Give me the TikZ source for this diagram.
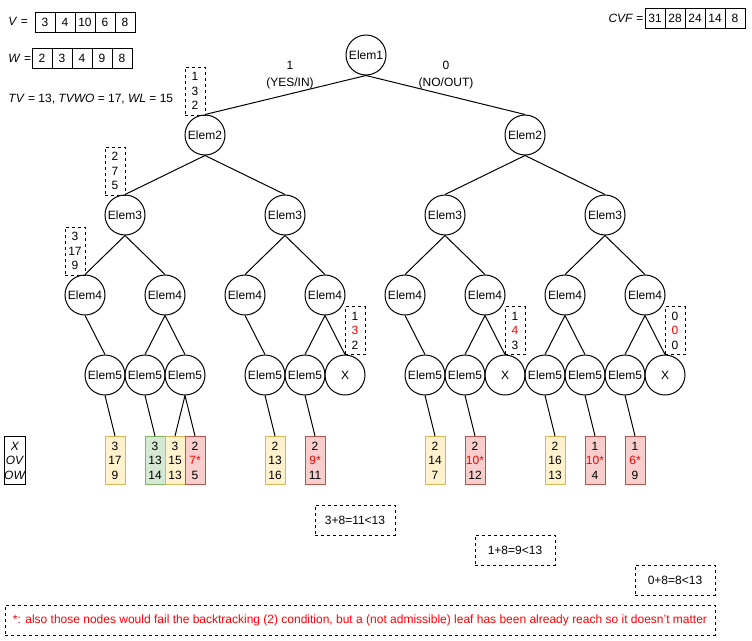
\documentclass[tikz,border=0pt]{standalone}
\usepackage{fontspec}
\setmainfont{Liberation Sans}
\usetikzlibrary{positioning}
\definecolor{yelfill}{HTML}{FFF2CC}
\definecolor{yeldraw}{HTML}{D6B656}
\definecolor{grnfill}{HTML}{D5E8D4}
\definecolor{grndraw}{HTML}{82B366}
\definecolor{redfill}{HTML}{F8CECC}
\definecolor{reddraw}{HTML}{B85450}
\definecolor{txtred}{HTML}{FF0000}
\newcommand{\redtxt}[1]{\textcolor{txtred}{#1}}
\tikzset{elem/.style = {draw, circle, minimum size = 40, inner sep = 0},
    cell/.style = {draw, minimum size = 20, inner sep = 0},
    leaf/.style = {draw, minimum width = 20, minimum height = 48, inner sep = 0, align = center},
    yel/.style = {leaf, draw = yeldraw, fill = yelfill},
    grn/.style = {leaf, draw = grndraw, fill = grnfill},
    rdl/.style = {leaf, draw = reddraw, fill = redfill},
    note/.style = {leaf, dashed},
    calc/.style = {draw, dashed, minimum width = 80, minimum height = 30, inner sep = 0},
    txt/.style = {inner sep = 0, anchor = west}}

\begin{document}
\begin{tikzpicture}[x=1pt, y=-1pt, line width=1pt, font=\fontsize{12}{14.5}\selectfont]
        \useasboundingbox (0,0) rectangle (752,640);
        % data rows
        \node[txt] (vlbl) at (8,21) {\textit{V} =};
        \foreach \v [count=\i] in {3,4,10,6,8}
            \node[cell] (v\i) at ({25+20*\i},22) {\v};
        \node[txt] (wlbl) at (8,58) {\textit{W} =};
        \foreach \v [count=\i] in {2,3,4,9,8}
            \node[cell] (w\i) at ({22+20*\i},58) {\v};
        \node[txt] (tv) at (8,99) {\textit{TV} = 13, \textit{TVWO} = 17, \textit{WL} = 15};
        \node[txt] (cvflbl) at (608,18) {\textit{CVF} =};
        \foreach \v [count=\i] in {31,28,24,14,8}
            \node[cell] (cvf\i) at ({635+20*\i},18) {\v};
        % tree
        \node[elem] (lvA1) at (366,55) {Elem1};
        \foreach \x [count=\i] in {205,525}
            \node[elem] (lvB\i) at (\x,135) {Elem2};
        \foreach \x [count=\i] in {125,285,445,605}
            \node[elem] (lvC\i) at (\x,215) {Elem3};
        \foreach \x [count=\i] in {85,165,245,325,405,485,565,645}
            \node[elem] (lvD\i) at (\x,295) {Elem4};
        \foreach \x/\t [count=\i] in {105/Elem5,145/Elem5,185/Elem5,265/Elem5,305/Elem5,345/X,
                425/Elem5,465/Elem5,505/X,545/Elem5,585/Elem5,625/Elem5,665/X}
            \node[elem] (lvE\i) at (\x,375) {\t};
        \foreach \p/\c in {lvA1/lvB1,lvA1/lvB2,lvB1/lvC1,lvB1/lvC2,lvB2/lvC3,lvB2/lvC4,
                lvC1/lvD1,lvC1/lvD2,lvC2/lvD3,lvC2/lvD4,lvC3/lvD5,lvC3/lvD6,lvC4/lvD7,lvC4/lvD8,
                lvD1/lvE1,lvD2/lvE2,lvD2/lvE3,lvD3/lvE4,lvD4/lvE5,lvD4/lvE6,lvD5/lvE7,
                lvD6/lvE8,lvD6/lvE9,lvD7/lvE10,lvD7/lvE11,lvD8/lvE12,lvD8/lvE13}
            \draw (\p.south) -- (\c.north);
        \node[align=center, font=\fontsize{12}{17.5}\selectfont] (yes) at (290,75) {1\\(YES/IN)};
        \node[align=center, font=\fontsize{12}{17.5}\selectfont] (no) at (446,75) {0\\(NO/OUT)};
        % leaves
        \foreach \x/\s/\t/\p [count=\i] in {115/yel/{3\\17\\9}/lvE1, 155/grn/{3\\13\\14}/lvE2,
                175/yel/{3\\15\\13}/lvE3, 195/rdl/{2\\\redtxt{7*}\\5}/lvE3,
                275/yel/{2\\13\\16}/lvE4, 315/rdl/{2\\\redtxt{9*}\\11}/lvE5,
                435/yel/{2\\14\\7}/lvE7, 475/rdl/{2\\\redtxt{10*}\\12}/lvE8,
                555/yel/{2\\16\\13}/lvE10, 595/rdl/{1\\\redtxt{10*}\\4}/lvE11,
                635/rdl/{1\\\redtxt{6*}\\9}/lvE12}
        {
            \node[\s] (leaf\i) at (\x,460.5) {\t};
            \draw (\p.south) -- (leaf\i.north);
        }
        \node[leaf, fill=white] (legend) at (15,460.5) {\textit{X}\\\textit{OV}\\\textit{OW}};
        % partial sums
        \node[note] (ps1) at (195,91) {1\\3\\2};
        \node[note] (ps2) at (115,171) {2\\7\\5};
        \node[note] (ps3) at (75,251) {3\\17\\9};
        \node[note] (ps4) at (355,330.5) {1\\\redtxt{3}\\2};
        \node[note] (ps5) at (515,330.5) {1\\\redtxt{4}\\3};
        \node[note] (ps6) at (675,330.5) {0\\\redtxt{0}\\0};
        % bounds
        \node[calc] (b1) at (355,520) {3+8=11<13};
        \node[calc] (b2) at (515,550) {1+8=9<13};
        \node[calc] (b3) at (675,580) {0+8=8<13};
        \node[draw, dashed, minimum width=710, minimum height=30, inner sep=0, text=txtred] (fn) at (360,620)
            {*: also those nodes would fail the backtracking (2) condition, but a (not admissible) leaf has been already reach so it doesn't matter};
    \end{tikzpicture}
\end{document}
